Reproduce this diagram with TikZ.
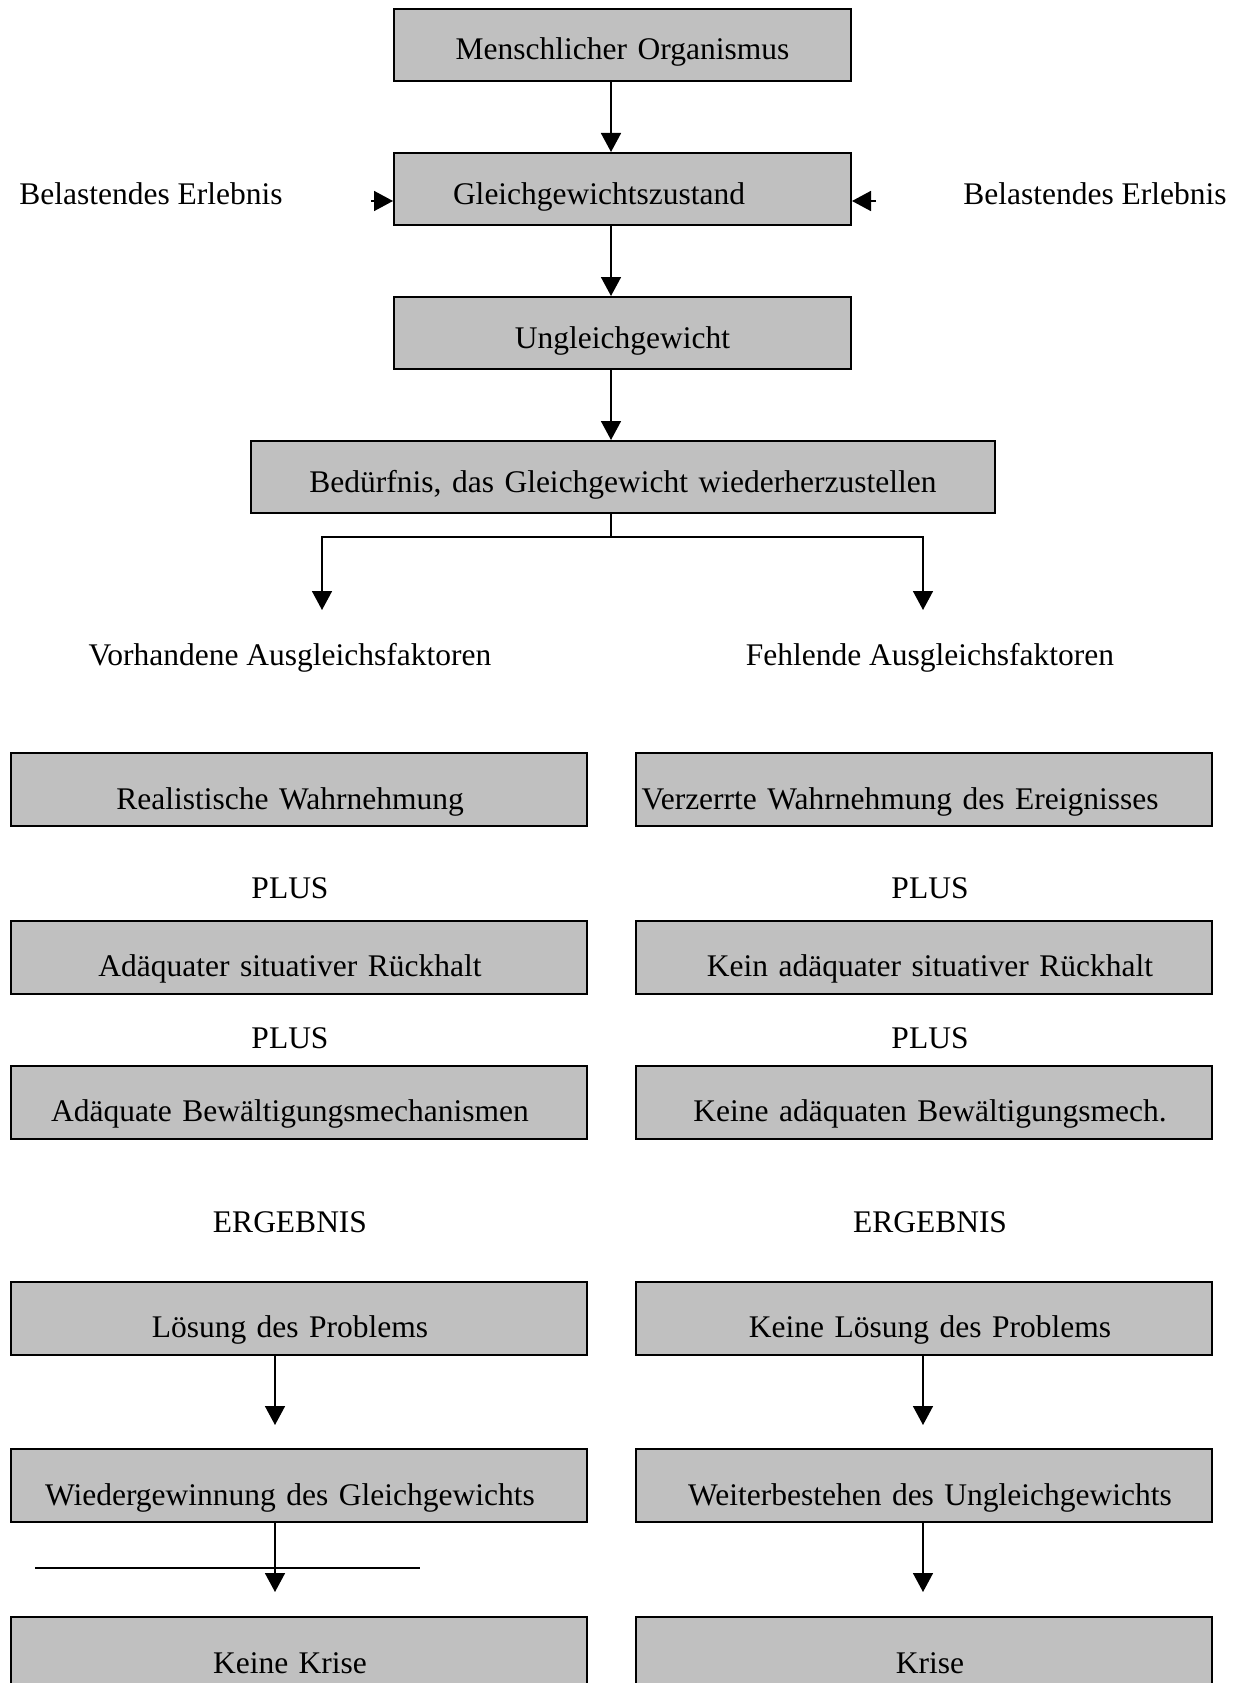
\documentclass[tikz,border=0pt]{standalone}
\usepackage{fontspec}
\setmainfont{Liberation Serif}
\usetikzlibrary{arrows.meta}
\definecolor{boxgray}{RGB}{192,192,192}
\tikzset{
  box/.style={draw, line width=2pt, fill=boxgray, inner xsep=0pt, inner ysep=0pt,
    text height=51pt, text depth=21pt, text width=#1, align=center},
  box/.default=457pt,
  lowbox/.style={box=576pt, text height=56pt, text depth=17pt},
  leftcol/.style={lowbox, execute at end node={\hspace*{18pt}}},
  rightcol/.style={lowbox, execute at begin node={\hspace*{13pt}}},
  plain/.style={inner sep=0pt, anchor=base},
  arr/.style={line width=1.6pt, -{Triangle[length=19pt,width=20pt]}},
}
\begin{document}
\begin{tikzpicture}[x=1pt, y=-1pt, font=\fontsize{31.5}{38}\selectfont]
  \useasboundingbox (0,0) rectangle (1245,1683);
  % upper chain
  \node[box] (organismus) at (622.5,45) {Menschlicher Organismus};
  \node[box, align=left] (zustand) at (622.5,189) {\hspace*{59pt}Gleichgewichtszustand};
  \node[box] (ungleich) at (622.5,333) {Ungleichgewicht};
  \node[box=744pt] (beduerfnis) at (623,477) {Bedürfnis, das Gleichgewicht wiederherzustellen};
  \node[plain] (erlebnisL) at (151,204) {Belastendes Erlebnis};
  \node[plain] (erlebnisR) at (1095,204) {Belastendes Erlebnis};
  \coordinate (spine) at (611,0);
  \coordinate (stressL) at (371,201);
  \coordinate (stressR) at (876,201);
  \draw[arr] (organismus.south -| spine) -- (zustand.north -| spine);
  \draw[arr] (zustand.south -| spine) -- (ungleich.north -| spine);
  \draw[arr] (ungleich.south -| spine) -- (beduerfnis.north -| spine);
  \draw[arr] (stressL) -- (zustand.west |- stressL);
  \draw[arr] (stressR) -- (zustand.east |- stressR);
  % split
  \coordinate (split) at (611,537);
  \coordinate (tipL) at (322,610);
  \coordinate (tipR) at (923,610);
  \draw[line width=1.6pt] (beduerfnis.south -| split) -- (split);
  \draw[arr] (split) -| (tipL);
  \draw[arr] (split) -| (tipR);
  \node[plain] (vorhanden) at (290,665) {Vorhandene Ausgleichsfaktoren};
  \node[plain] (fehlend) at (930,665) {Fehlende Ausgleichsfaktoren};
  % left column
  \node[leftcol] (wahrL) at (299,789.5) {Realistische Wahrnehmung};
  \node[plain] (plusL1) at (290,898) {PLUS};
  \node[leftcol] (rueckL) at (299,957) {Adäquater situativer Rückhalt};
  \node[plain] (plusL2) at (290,1048) {PLUS};
  \node[leftcol] (mechL) at (299,1102) {Adäquate Bewältigungsmechanismen};
  \node[plain] (ergL) at (290,1232) {ERGEBNIS};
  \node[leftcol] (loesL) at (299,1318) {Lösung des Problems};
  \node[leftcol] (gleichL) at (299,1485.5) {Wiedergewinnung des Gleichgewichts};
  \node[leftcol] (kriseL) at (299,1653.5) {Keine Krise};
  % right column
  \node[lowbox, align=left] (wahrR) at (923.5,789.5) {\hspace*{6pt}Verzerrte Wahrnehmung des Ereignisses};
  \node[plain] (plusR1) at (930,898) {PLUS};
  \node[rightcol] (rueckR) at (923.5,957) {Kein adäquater situativer Rückhalt};
  \node[plain] (plusR2) at (930,1048) {PLUS};
  \node[rightcol] (mechR) at (923.5,1102) {Keine adäquaten Bewältigungsmech.};
  \node[plain] (ergR) at (930,1232) {ERGEBNIS};
  \node[rightcol] (loesR) at (923.5,1318) {Keine Lösung des Problems};
  \node[rightcol] (gleichR) at (923.5,1485.5) {Weiterbestehen des Ungleichgewichts};
  \node[rightcol] (kriseR) at (923.5,1653.5) {Krise};
  % lower arrows
  \coordinate (downL1) at (275,1425);
  \coordinate (downL2) at (275,1592);
  \coordinate (downR1) at (923,1425);
  \coordinate (downR2) at (923,1592);
  \draw[arr] (loesL.south -| downL1) -- (downL1);
  \draw[arr] (gleichL.south -| downL2) -- (downL2);
  \draw[arr] (loesR.south -| downR1) -- (downR1);
  \draw[arr] (gleichR.south -| downR2) -- (downR2);
  \coordinate (barA) at (35,1568);
  \coordinate (barB) at (420,1568);
  \draw[line width=1.6pt] (barA) -- (barB);
\end{tikzpicture}
\end{document}
